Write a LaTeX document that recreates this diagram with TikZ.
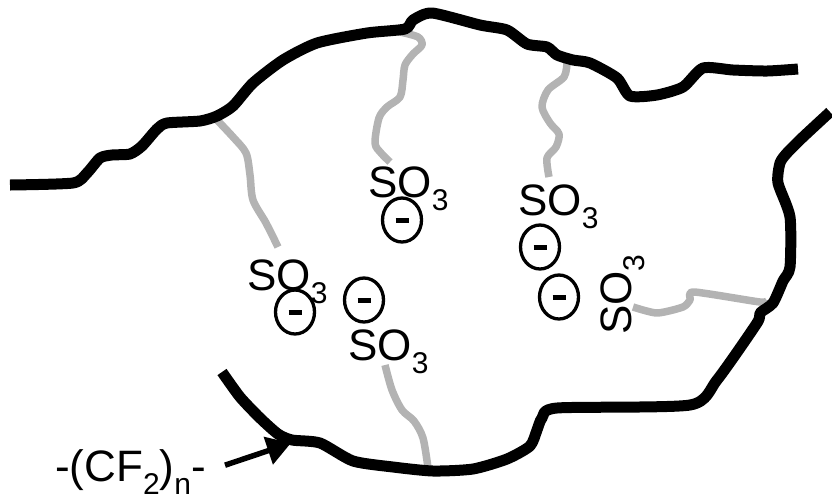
\documentclass[tikz,border=0pt]{standalone}
\usepackage{fontspec}
\setmainfont{Liberation Sans}
\usetikzlibrary{arrows.meta,shapes.geometric}
\definecolor{chaingray}{RGB}{179,179,179}
\newcommand\lowsub[1]{\raisebox{-13pt}{\fontsize{30}{30}\selectfont #1}}
\newcommand\sulfo{SO\lowsub{3}}

\begin{document}
\begin{tikzpicture}[x=1pt,y=-1pt,
  font=\fontsize{44}{50}\selectfont,
  membrane/.style={line width=11pt,line join=round},
  chain/.style={draw=chaingray,line width=7.5pt,line join=round},
  grp/.style={inner sep=0pt,anchor=base west},
  charge/.style={ellipse,draw,line width=3.3pt,minimum width=39pt,
                 minimum height=44pt,inner sep=0pt},
  pointer/.style={-{Triangle[length=24pt,width=28pt]},line width=5.5pt},
]
\useasboundingbox (0,0) rectangle (832,499);

% ---- side chains (under the backbone) ----------------------------------
\draw[chain] plot[smooth,tension=0.5] coordinates
  {(217,120) (233,137) (246,153) (250,175) (253,200) (266,223) (278,247)};
\draw[chain] plot[smooth,tension=0.5] coordinates
  {(400,32) (418,37) (422,45) (413,54) (405,65) (403,80) (400,97) (387,107)
   (379,118) (375,143) (381,153) (390,162)};
\draw[chain] plot[smooth,tension=0.5] coordinates
  {(567,63) (564,77) (548,90) (542,107) (550,123) (559,134) (556,147)
   (547,158) (549,177)};
\draw[chain] plot[smooth,tension=0.5] coordinates
  {(385,365) (392,390) (402,410) (414,421) (423,438) (428,468)};
\draw[chain] plot[smooth,tension=0.4] coordinates
  {(633,307) (657,313) (683,307) (690,300) (694,292) (760,302) (767,300)};

% ---- backbone ----------------------------------------------------------
\draw[membrane] plot[smooth,tension=0.4] coordinates
  {(10,185) (73,183) (87,173) (100,158) (112,155) (130,154) (142,146)
   (157,129) (167,123) (200,121) (217,116) (233,106) (253,83) (283,60)
   (317,43) (367,33) (405,29) (413,20) (432,13) (480,25) (507,30) (527,44)
   (547,47) (557,55) (573,60) (590,63) (617,78) (630,96) (657,95) (683,87)
   (703,68) (733,70) (767,71) (798,69)};
\draw[membrane] plot[smooth,tension=0.4] coordinates
  {(222,372) (240,397) (260,418) (278,434) (292,440) (320,443) (353,461)
   (393,467) (433,471) (473,469) (507,459) (530,446) (537,430) (542,418)
   (557,408) (690,405) (717,380) (757,323) (760,313) (773,303) (783,281)
   (790,267) (790,217) (778,183) (780,163) (787,153) (803,137) (830,112)};

% ---- sulfonate groups and charges ---------------------------------------
\node[grp] (sa) at (368,197) {\sulfo};
\node[grp] (sb) at (247,290) {\sulfo};
\node[grp] (sc) at (348,360) {\sulfo};
\node[grp] (sd) at (518,215) {\sulfo};
\node[grp,rotate=90] (se) at (631,335) {\sulfo};

\node[charge] (ca) at (402,220) {\rule[-2.5pt]{13pt}{5pt}};
\node[charge] (cb) at (295,312) {\rule[-2.5pt]{13pt}{5pt}};
\node[charge] (cc) at (364,300) {\rule[-2.5pt]{13pt}{5pt}};
\node[charge] (cd) at (540,247) {\rule[-2.5pt]{13pt}{5pt}};
\node[charge] (ce) at (559,297) {\rule[-2.5pt]{13pt}{5pt}};

% ---- label --------------------------------------------------------------
\node[grp] (lbl) at (55,481) {-(CF\lowsub{2})\lowsub{n}-};
\coordinate (tip) at (291,443);
\draw[pointer,shorten <=20pt] (lbl.east) -- (tip);
\end{tikzpicture}
\end{document}
